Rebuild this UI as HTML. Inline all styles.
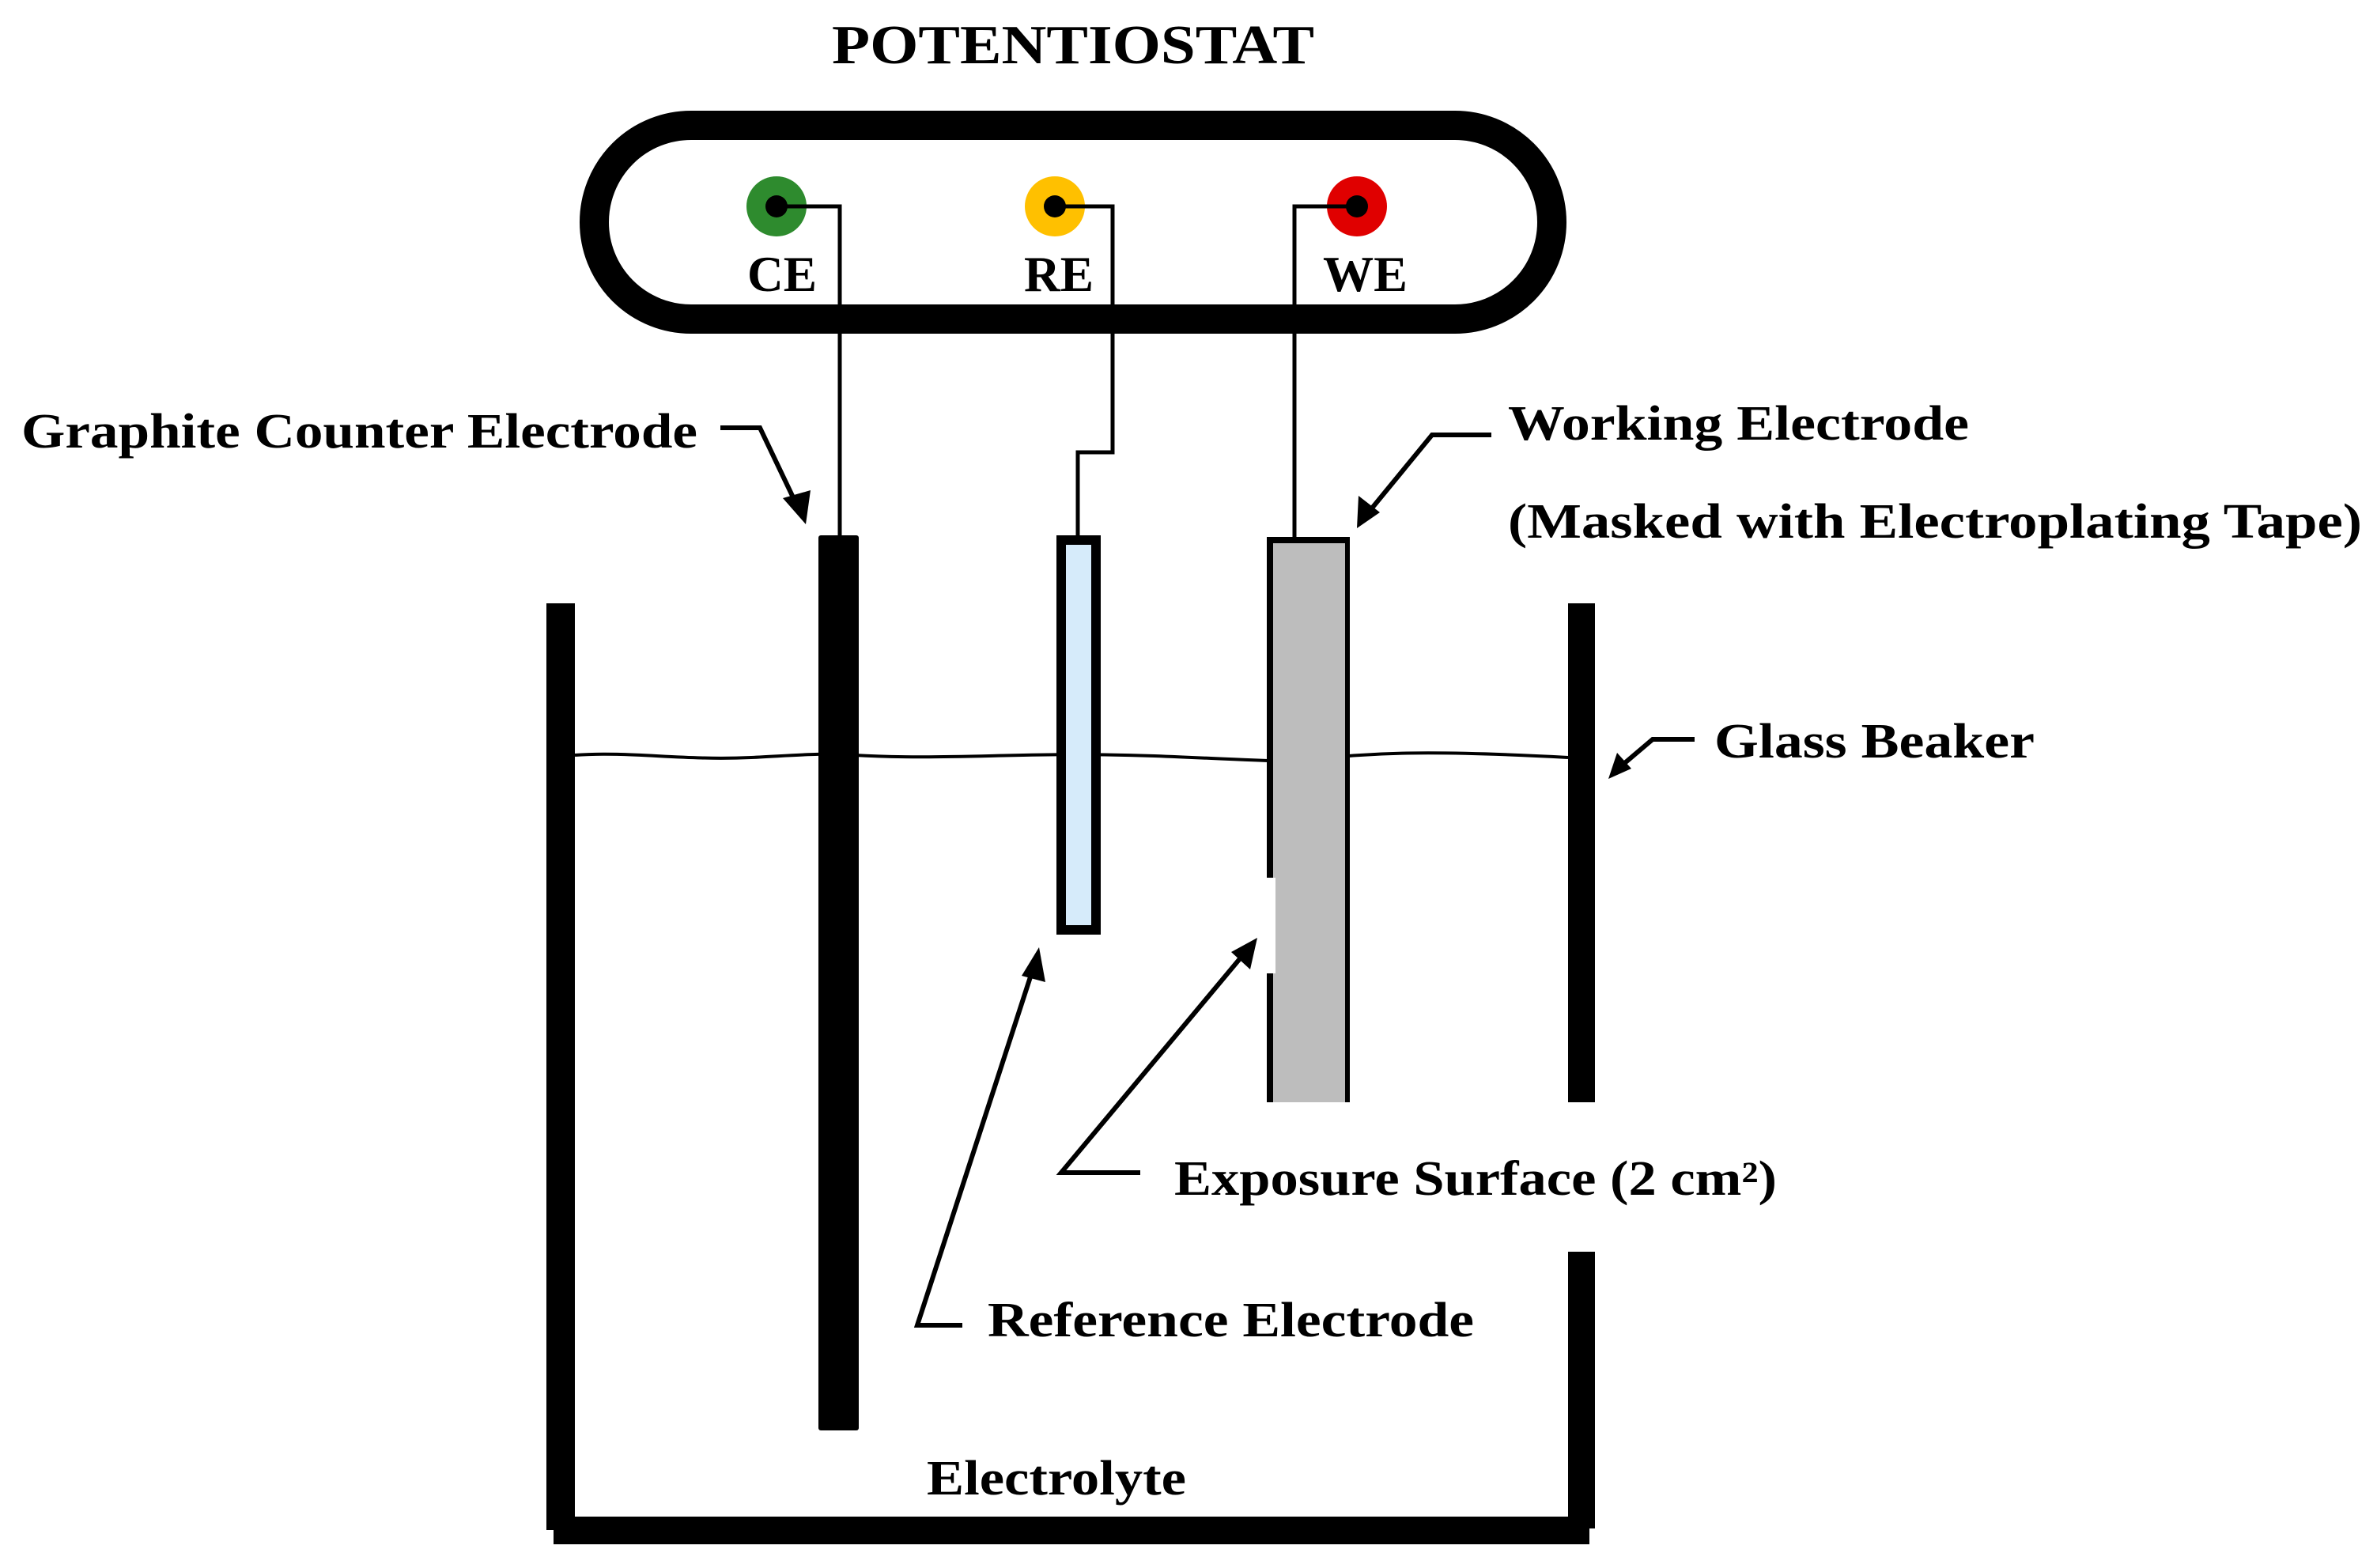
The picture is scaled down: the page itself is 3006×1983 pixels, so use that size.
<!DOCTYPE html>
<html><head><meta charset="utf-8"><style>
html,body{margin:0;padding:0;background:#fff;}
svg{display:block;}
text{font-family:"Liberation Serif",serif;font-weight:bold;fill:#000;}
</style></head><body>
<svg width="3006" height="1983" viewBox="0 0 3006 1983" xmlns="http://www.w3.org/2000/svg">
<rect width="3006" height="1983" fill="#fff"/>
<text x="1357" y="80" font-size="70" text-anchor="middle" textLength="610" lengthAdjust="spacingAndGlyphs">POTENTIOSTAT</text>
<rect x="751.5" y="158.5" width="1211" height="245" rx="122.5" ry="122.5" fill="none" stroke="#000" stroke-width="37"/>
<circle cx="982" cy="261" r="38" fill="#2e8b2e"/>
<circle cx="1334" cy="261" r="38" fill="#ffc000"/>
<circle cx="1716" cy="261" r="38" fill="#e00000"/>
<circle cx="982" cy="261" r="14" fill="#000"/>
<circle cx="1334" cy="261" r="14" fill="#000"/>
<circle cx="1716" cy="261" r="14" fill="#000"/>
<g fill="none" stroke="#000" stroke-width="5">
<polyline points="982,261 1062,261 1062,680"/>
<polyline points="1334,261 1407,261 1407,572 1363,572 1363,680"/>
<polyline points="1716,261 1637,261 1637,682"/>
</g>
<text x="945" y="368" font-size="64" textLength="88" lengthAdjust="spacingAndGlyphs">CE</text>
<text x="1295" y="368" font-size="64" textLength="88" lengthAdjust="spacingAndGlyphs">RE</text>
<text x="1673" y="368" font-size="64" textLength="107" lengthAdjust="spacingAndGlyphs">WE</text>
<path d="M727,955 C800,950 860,962 950,958 C1010,955 1040,952 1080,955 C1200,962 1300,950 1460,956 C1560,960 1590,962 1640,963 C1720,952 1800,948 1983,958" fill="none" stroke="#000" stroke-width="4"/>
<rect x="691" y="763" width="36" height="1172" fill="#000"/>
<rect x="1983" y="763" width="34" height="631" fill="#000"/>
<rect x="1983" y="1583" width="34" height="350" fill="#000"/>
<rect x="700" y="1918" width="1310" height="35" fill="#000"/>
<rect x="1035" y="677" width="51" height="1132" rx="3" fill="#000"/>
<rect x="1342" y="683" width="44" height="493" fill="#d6ebfa" stroke="#000" stroke-width="12"/>
<rect x="1602" y="679" width="105" height="715" fill="#bdbdbd"/>
<g stroke="#000" fill="none">
<line x1="1602" y1="683" x2="1707" y2="683" stroke-width="8"/>
<line x1="1606" y1="679" x2="1606" y2="1110" stroke-width="8"/>
<line x1="1606" y1="1231" x2="1606" y2="1394" stroke-width="8"/>
<line x1="1704" y1="679" x2="1704" y2="1394" stroke-width="6"/>
</g>
<rect x="1600" y="1110" width="13" height="121" fill="#fff"/>
<g fill="none" stroke="#000" stroke-width="6">
<polyline points="911,541 961,541 1012,648"/>
<polyline points="1886,550 1811,550 1724,656"/>
<polyline points="2143,935 2090,935 2044,974"/>
<polyline points="1442,1483 1342,1483 1580,1198"/>
<polyline points="1217,1676 1160,1676 1310,1214"/>
</g>
<g fill="#000">
<polygon points="1019,663 990,630 1025,620"/>
<polygon points="1716,668 1718,627 1745,648"/>
<polygon points="2034,985 2045,952 2063,972"/>
<polygon points="1590,1186 1581,1226 1557,1204"/>
<polygon points="1314,1198 1322,1242 1292,1234"/>
</g>
<text x="27" y="566" font-size="62" textLength="855" lengthAdjust="spacingAndGlyphs">Graphite Counter Electrode</text>
<text x="1907" y="556" font-size="62" textLength="583" lengthAdjust="spacingAndGlyphs">Working Electrode</text>
<text x="1907" y="680" font-size="62" textLength="1080" lengthAdjust="spacingAndGlyphs">(Masked with Electroplating Tape)</text>
<text x="2168" y="958" font-size="62" textLength="405" lengthAdjust="spacingAndGlyphs">Glass Beaker</text>
<text x="1485" y="1511" font-size="62" textLength="762" lengthAdjust="spacingAndGlyphs">Exposure Surface (2 cm²)</text>
<text x="1249" y="1690" font-size="62" textLength="615" lengthAdjust="spacingAndGlyphs">Reference Electrode</text>
<text x="1172" y="1890" font-size="62" textLength="328" lengthAdjust="spacingAndGlyphs">Electrolyte</text>
</svg>
</body></html>
